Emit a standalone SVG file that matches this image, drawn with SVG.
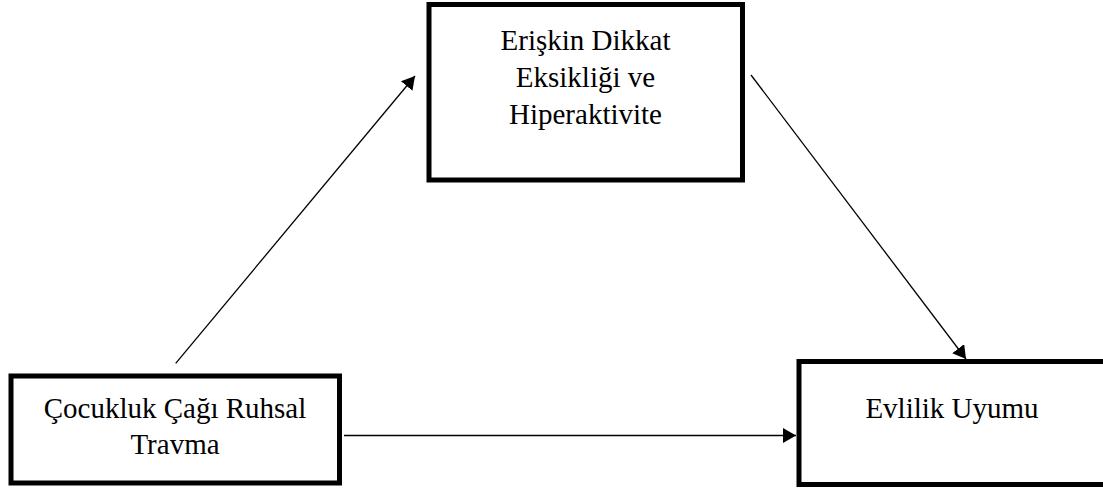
<svg xmlns="http://www.w3.org/2000/svg" width="1103" height="490" viewBox="0 0 1103 490">
  <style>
    .box { fill: #ffffff; stroke: #000000; stroke-width: 5; }
    .label { font-family: "Liberation Serif", "Times New Roman", serif; font-size: 29px; fill: #000000; text-anchor: middle; }
    .conn { stroke: #000000; stroke-width: 1.3; fill: none; marker-end: url(#arrow); }
  </style>
  <defs>
    <marker id="arrow" markerUnits="userSpaceOnUse" markerWidth="14" markerHeight="16" refX="13" refY="7.5" orient="auto">
      <path d="M0,0 L13,7.5 L0,15 z" fill="#000000"/>
    </marker>
  </defs>
  <rect x="0" y="0" width="1103" height="490" fill="#ffffff"/>
  <g id="node-adhd">
    <rect class="box" x="429" y="4.5" width="313.5" height="175.5"/>
    <text class="label" x="585.5" y="50">Erişkin Dikkat</text>
    <text class="label" x="585.5" y="87">Eksikliği ve</text>
    <text class="label" x="585.5" y="124">Hiperaktivite</text>
  </g>
  <g id="node-trauma">
    <rect class="box" x="11" y="376" width="328.5" height="107"/>
    <text class="label" x="175" y="418">Çocukluk Çağı Ruhsal</text>
    <text class="label" x="175" y="454">Travma</text>
  </g>
  <g id="node-marriage">
    <rect class="box" x="799" y="361.5" width="320" height="123"/>
    <text class="label" x="952" y="418">Evlilik Uyumu</text>
  </g>
  <g id="connectors">
    <line class="conn" x1="175.7" y1="363.3" x2="415" y2="76"/>
    <line class="conn" x1="751" y1="75" x2="966" y2="359"/>
    <line class="conn" x1="344" y1="435.5" x2="796" y2="435.5"/>
  </g>
</svg>
